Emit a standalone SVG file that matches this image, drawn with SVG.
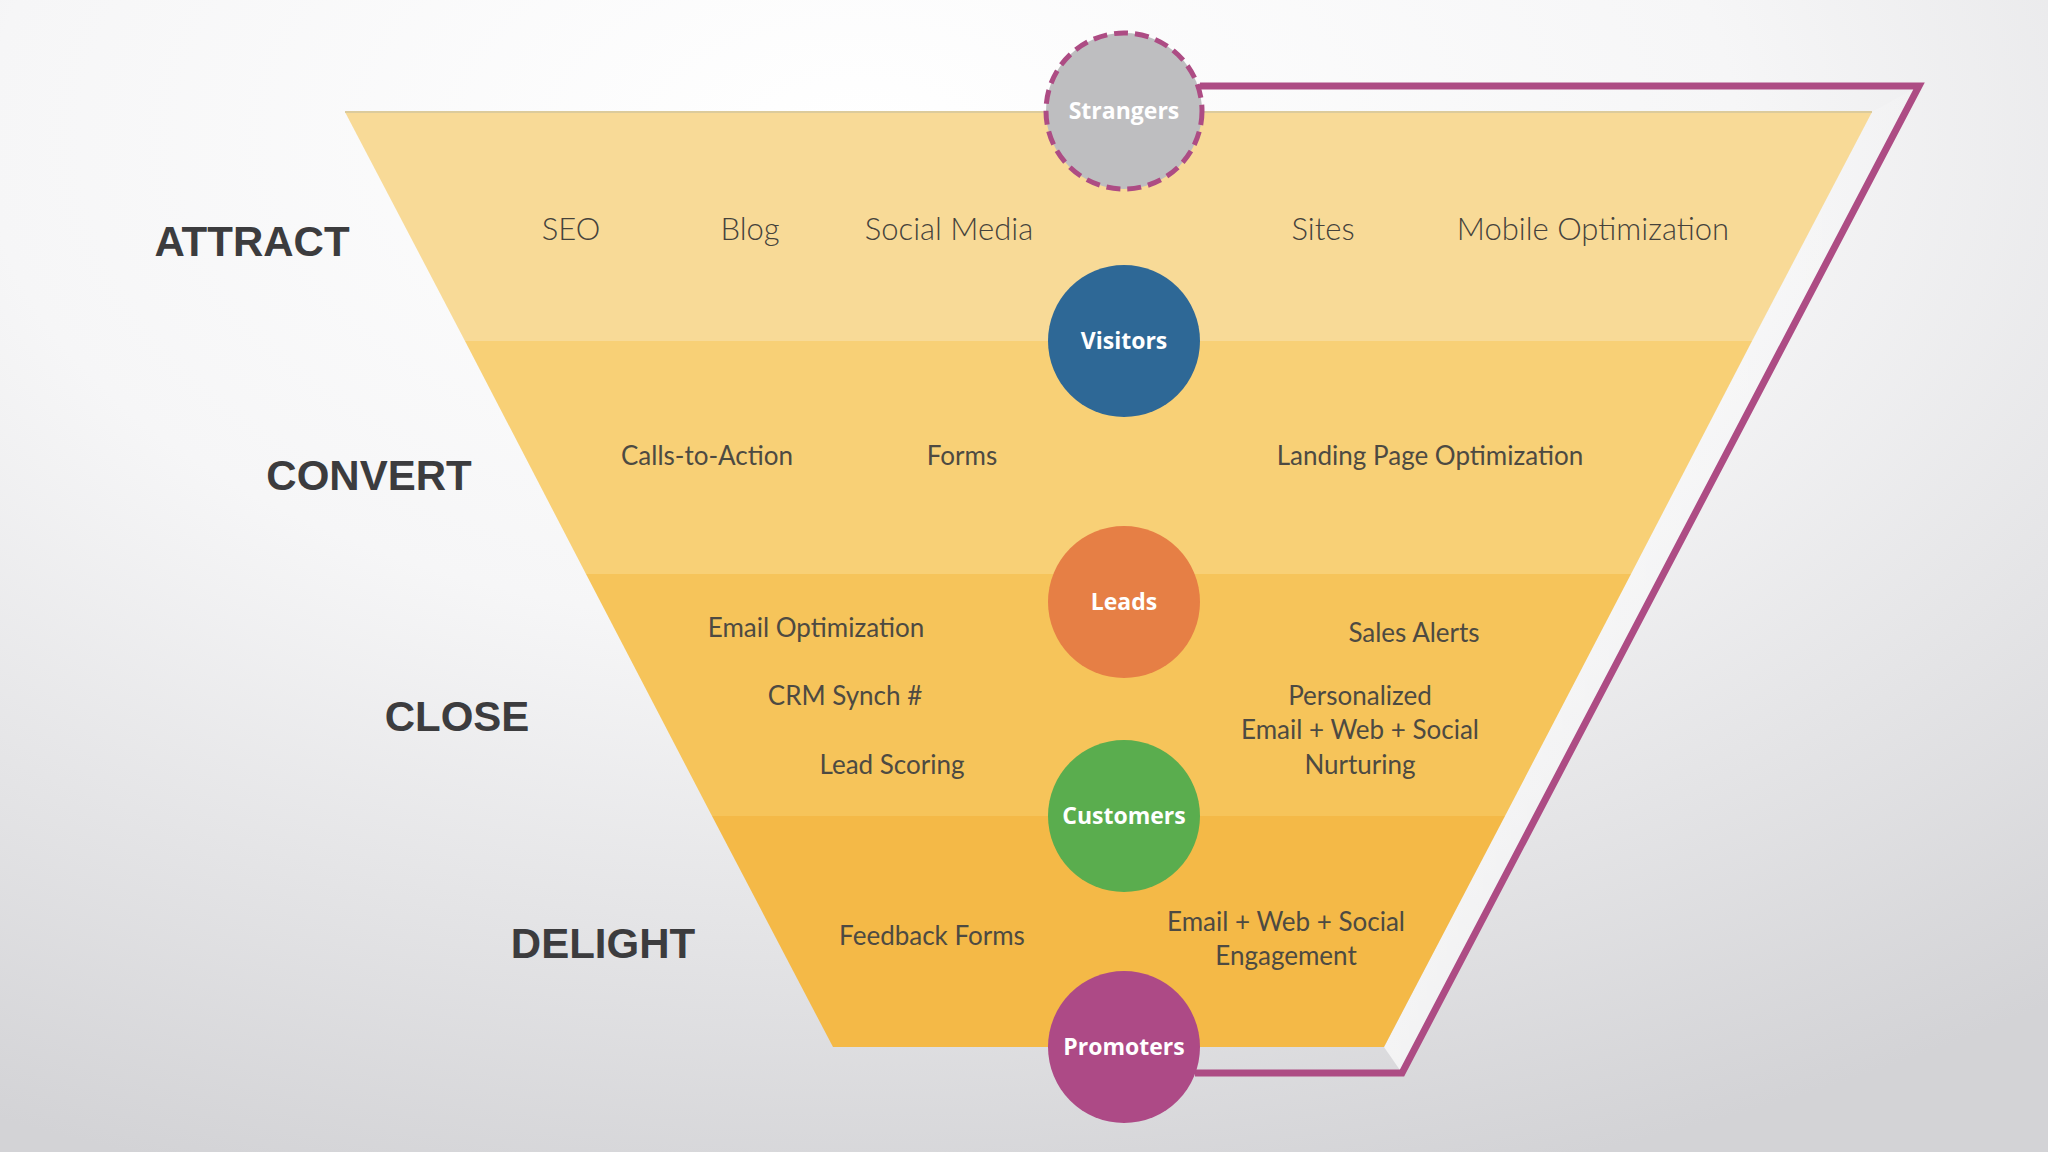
<svg xmlns="http://www.w3.org/2000/svg" width="2048" height="1152" viewBox="0 0 2048 1152">
<defs>
<radialGradient id="bg" cx="0.42" cy="0.12" r="0.95" gradientUnits="objectBoundingBox">
<stop offset="0" stop-color="#ffffff"/>
<stop offset="0.45" stop-color="#f6f6f7"/>
<stop offset="1" stop-color="#d3d3d6"/>
</radialGradient>
<linearGradient id="gap" x1="0" y1="0" x2="1" y2="0">
<stop offset="0" stop-color="#ffffff" stop-opacity="0.7"/>
<stop offset="1" stop-color="#ffffff" stop-opacity="0.1"/>
</linearGradient>
<style>
.stage{font-family:"Liberation Sans",Arial,sans-serif;font-weight:bold;font-size:42px;fill:#3c3c3e;text-anchor:middle}
.lbl{font-family:Lato,"Open Sans",sans-serif;font-weight:400;font-size:26px;fill:#4d4a42;text-anchor:middle}
.top{font-size:31px;font-weight:300;fill:#45423c}
.node text{font-family:"Open Sans","Liberation Sans",sans-serif;font-weight:bold;font-size:23px;fill:#ffffff;text-anchor:middle}
</style>
</defs>
<rect width="2048" height="1152" fill="url(#bg)"/>
<polygon points="1872,112 1919,86 1402,1073 1384,1047" fill="url(#gap)"/>

<g id="funnel">
<polygon points="345,112 1872,112 1752,341 465,341" fill="#f8da97"/>
<polygon points="465,341 1752,341 1631,574 586,574" fill="#f8d076"/>
<polygon points="586,574 1631,574 1505,816 712,816" fill="#f6c45a"/>
<polygon points="712,816 1505,816 1384,1047 833,1047" fill="#f4b947"/>
<line x1="345" y1="112" x2="1872" y2="112" stroke="#dccb9c" stroke-width="2"/>
</g>

<g id="connectors">
<polyline points="1200,86 1919,86 1402,1073 1195,1073" fill="none" stroke="#ad4c84" stroke-width="7" stroke-linejoin="miter"/>
</g>

<g id="stages">
<text class="stage" x="252" y="256">ATTRACT</text>
<text class="stage" x="369" y="490">CONVERT</text>
<text class="stage" x="457" y="731">CLOSE</text>
<text class="stage" x="603" y="958">DELIGHT</text>
</g>

<g id="labels">
<text class="lbl top" x="571" y="240">SEO</text>
<text class="lbl top" x="750" y="240">Blog</text>
<text class="lbl top" x="949" y="240">Social Media</text>
<text class="lbl top" x="1323" y="240">Sites</text>
<text class="lbl top" x="1593" y="240">Mobile Optimization</text>
<text class="lbl" x="707" y="465">Calls-to-Action</text>
<text class="lbl" x="962" y="465">Forms</text>
<text class="lbl" x="1430" y="465">Landing Page Optimization</text>
<text class="lbl" x="816" y="637">Email Optimization</text>
<text class="lbl" x="845" y="705">CRM Synch #</text>
<text class="lbl" x="892" y="774">Lead Scoring</text>
<text class="lbl" x="1414" y="642">Sales Alerts</text>
<text class="lbl" x="1360" y="705">Personalized</text>
<text class="lbl" x="1360" y="739">Email + Web + Social</text>
<text class="lbl" x="1360" y="774">Nurturing</text>
<text class="lbl" x="932" y="945">Feedback Forms</text>
<text class="lbl" x="1286" y="931">Email + Web + Social</text>
<text class="lbl" x="1286" y="965">Engagement</text>
</g>

<g id="strangers" class="node">
<circle cx="1124" cy="111" r="78" fill="#bebec0" stroke="#ad4c84" stroke-width="5" stroke-dasharray="14 7"/>
<text x="1124" y="119">Strangers</text>
</g>
<g id="visitors" class="node">
<circle cx="1124" cy="341" r="76" fill="#2e6896"/>
<text x="1124" y="349">Visitors</text>
</g>
<g id="leads" class="node">
<circle cx="1124" cy="602" r="76" fill="#e67f45"/>
<text x="1124" y="610">Leads</text>
</g>
<g id="customers" class="node">
<circle cx="1124" cy="816" r="76" fill="#5aad4e"/>
<text x="1124" y="824">Customers</text>
</g>
<g id="promoters" class="node">
<circle cx="1124" cy="1047" r="76" fill="#ad4a86"/>
<text x="1124" y="1055">Promoters</text>
</g>
</svg>
